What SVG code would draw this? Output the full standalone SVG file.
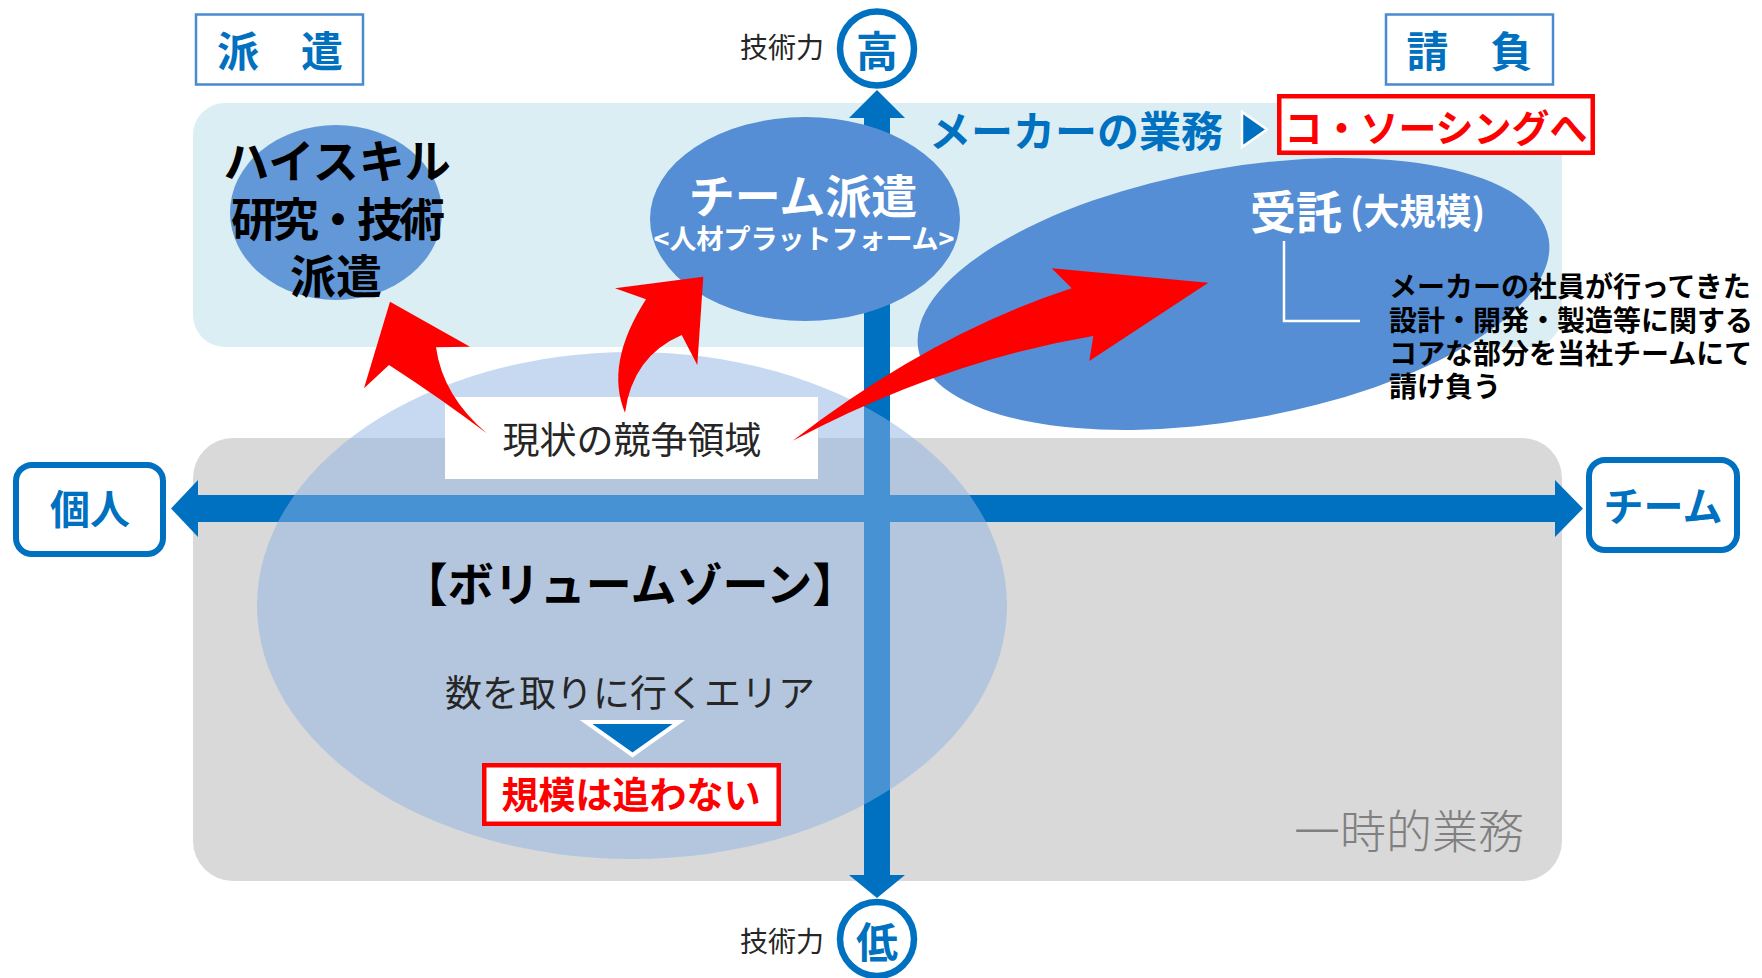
<svg xmlns="http://www.w3.org/2000/svg" width="1762" height="978" viewBox="0 0 1762 978">
<style>
text{font-family:"Noto Sans CJK JP","Noto Sans",sans-serif;dominant-baseline:central}
.b{font-weight:700}
.blue{fill:#0070C0}
.red{fill:#FF0000}
.dark{fill:#262626}
.wt{fill:#FFFFFF}
.mid{text-anchor:middle}
.ell{fill:#558ED5}
.axis{fill:#0070C0}
.rarrow{fill:#FF0000}
.qbox{fill:#FFFFFF;stroke:#4A8AD0;stroke-width:2.5}
.ebox{fill:#FFFFFF;stroke:#0070C0;stroke-width:6}
.rbox{fill:#FFFFFF;stroke:#FF0000;stroke-width:4.5}
.circ{fill:#FFFFFF;stroke:#0070C0;stroke-width:6.5}
</style>

<g id="bg-high">
<rect x="193" y="103" width="1369" height="244" rx="32" fill="#DBEEF4"/>
</g>
<g id="bg-low">
<rect x="193" y="438" width="1369" height="443" rx="40" fill="#D9D9D9"/>
<text x="1409" y="828" class="mid" font-size="46" font-weight="300" fill="#808080">一時的業務</text>
</g>

<g id="connectors">
<g id="axes">
<rect x="196" y="495" width="1361" height="27" class="axis"/>
<path d="M171,508.5 L198,480 L198,537 Z" class="axis"/>
<path d="M1583,508.5 L1555,480 L1555,537 Z" class="axis"/>
<rect x="864" y="116" width="26" height="761" class="axis"/>
<path d="M877,90 L849,118 L905,118 Z" class="axis"/>
<path d="M877,898 L849,875 L905,875 Z" class="axis"/>
</g>
</g>

<g id="volume-zone">
<ellipse cx="632" cy="605.5" rx="375" ry="253.5" fill="#8EB4E3" fill-opacity="0.5"/>
<text x="630" y="581" class="b mid" font-size="46" fill="#000">【ボリュームゾーン】</text>
<text x="630" y="691" class="mid dark" font-size="37">数を取りに行くエリア</text>
<path d="M586,722 L679,722 L632.5,755 Z" fill="#0070C0" stroke="#FFFFFF" stroke-width="4" stroke-linejoin="miter"/>
<rect x="484.25" y="765.25" width="294.5" height="58.5" class="rbox"/>
<text x="631" y="793" class="b mid red" font-size="37">規模は追わない</text>
</g>

<g id="current-area">
<rect x="445" y="397" width="373" height="82" fill="#FFFFFF"/>
<text x="632" y="438" class="mid dark" font-size="37">現状の競争領域</text>
</g>

<g id="label-haken">
<rect x="196" y="14.5" width="167" height="70" class="qbox"/>
<text x="280" y="48" class="b mid blue" font-size="42">派　遣</text>
</g>
<g id="label-ukeoi">
<rect x="1386" y="14.5" width="167" height="70" class="qbox"/>
<text x="1469.5" y="48" class="b mid blue" font-size="42">請　負</text>
</g>

<g id="label-high">
<circle cx="877" cy="48.5" r="37" class="circ"/>
<text x="877" y="48" class="b mid blue" font-size="42">高</text>
<text x="824" y="46" font-size="28" class="dark" text-anchor="end">技術力</text>
</g>
<g id="label-low">
<circle cx="877" cy="939" r="37" class="circ"/>
<text x="877" y="939" class="b mid blue" font-size="42">低</text>
<text x="824" y="940" font-size="28" class="dark" text-anchor="end">技術力</text>
</g>

<g id="label-individual">
<rect x="16" y="465" width="147" height="89" rx="16" class="ebox"/>
<text x="90" y="507" class="b mid blue" font-size="40">個人</text>
</g>
<g id="label-team">
<rect x="1589" y="460" width="148" height="90" rx="16" class="ebox"/>
<text x="1663" y="504" class="b mid blue" font-size="40">チーム</text>
</g>

<g id="high-skill">
<ellipse cx="336" cy="212.5" rx="106" ry="87.5" class="ell" fill-opacity="0.9"/>
<text x="337" y="158" class="b mid" font-size="46" fill="#000">ハイスキル</text>
<text x="336" y="216" class="b mid" font-size="46" fill="#000" letter-spacing="-4">研究・技術</text>
<text x="336" y="273" class="b mid" font-size="46" fill="#000">派遣</text>
</g>

<g id="team-haken">
<ellipse cx="805" cy="219" rx="155" ry="102" class="ell"/>
<text x="803" y="193" class="b mid wt" font-size="46">チーム派遣</text>
<text x="804" y="237" class="b mid wt" font-size="27">&lt;人材プラットフォーム&gt;</text>
</g>

<g id="jutaku">
<ellipse cx="1233.5" cy="294" rx="320" ry="126" class="ell" transform="rotate(-10 1233.5 294)"/>
<text x="1250" y="209" class="b wt" font-size="46">受託<tspan font-size="36" dx="8">(大規模)</tspan></text>
<path d="M1284,241 V321 H1360" fill="none" stroke="#FFFFFF" stroke-width="2.5"/>
<text x="1389" class="b" font-size="28" fill="#000"><tspan x="1389" y="285">メーカーの社員が行ってきた</tspan><tspan x="1389" y="318.5">設計・開発・製造等に関する</tspan><tspan x="1389" y="352">コアな部分を当社チームにて</tspan><tspan x="1389" y="385">請け負う</tspan></text>
</g>

<g id="maker-work">
<text x="929" y="128" class="b blue" font-size="42">メーカーの業務</text>
<path d="M1242,112 L1242,147 L1267,129.5 Z" fill="#0070C0" stroke="#FFFFFF" stroke-width="2.5"/>
</g>
<g id="co-sourcing">
<rect x="1279.25" y="96.25" width="313.5" height="56.5" class="rbox"/>
<text x="1436" y="125" class="b mid red" font-size="38">コ・ソーシングへ</text>
</g>

<g id="red-arrows">
<path d="M390,301.7 L470,346.7 L436,347.3 Q442.6,395.7 486.7,433.3 Q440,398 389,365 L364,388.3 Z" class="rarrow"/>
<path d="M703.3,276.7 L615,288.3 L646,299.3 Q604.5,364 625,412.7 Q632.6,356.2 681.7,335 L697.3,365 Z" class="rarrow"/>
<path d="M1208.3,282.7 L1051.7,268.3 L1071.7,288.3 Q931.8,333.5 792.7,440.7 Q943,361 1093.3,336 L1089.3,361 Z" class="rarrow"/>
</g>
</svg>
